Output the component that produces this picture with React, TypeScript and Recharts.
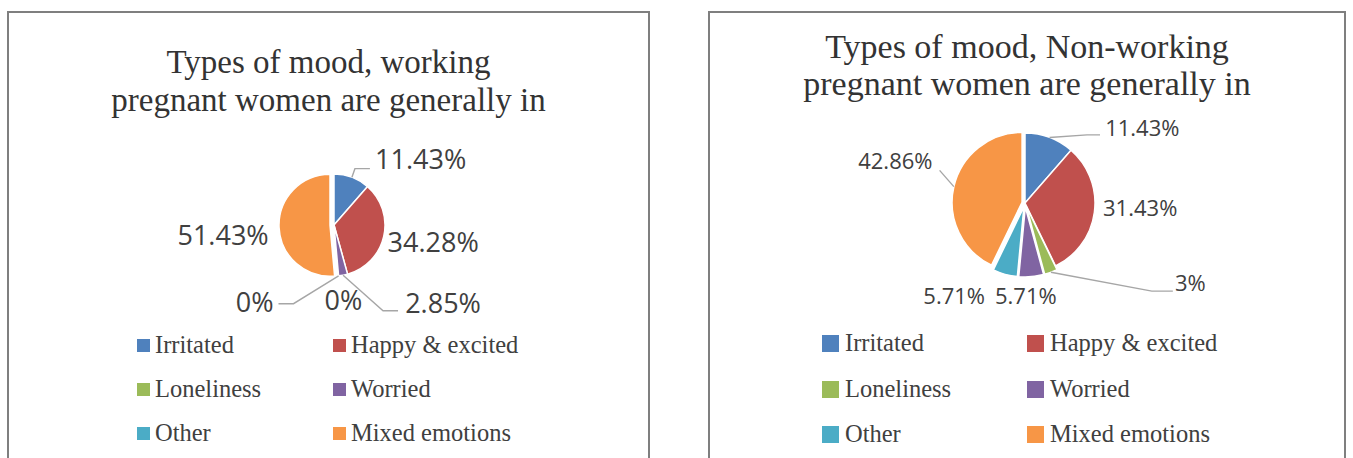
import React from 'react';
import { Cell, Legend, Pie, PieChart, Sector } from 'recharts';

const categories = ['Irritated', 'Happy & excited', 'Loneliness', 'Worried', 'Other', 'Mixed emotions'];
const colors = ['#4F81BD', '#C0504D', '#9BBB59', '#8064A2', '#4BACC6', '#F79646'];

const workingValues = [11.43, 34.28, 0, 2.85, 0, 51.43];
const nonWorkingValues = [11.43, 31.43, 3, 5.71, 5.71, 42.86];

const workingTitle = ['Types of mood, working', 'pregnant women are generally in'];
const nonWorkingTitle = ['Types of mood, Non-working', 'pregnant women are generally in'];

const RAD = Math.PI / 180;
const TEXT = '#404040';
const LEADER = '#A6A6A6';

type Leader = { gap: number; dy: number; tail: number } | null;

type Layout = {
  left: number;
  top: number;
  width: number;
  height: number;
  cx: number;
  cy: number;
  r: number;
  titleTop: number;
  titleSize: number;
  titleLine: number;
  labelSize: number;
  nudges: [number, number][];
  leaders: Leader[];
  explode: number[];
  legend: { colX: number[]; textGap: number; rowY: number[]; square: number };
};

const leftLayout: Layout = {
  left: 7,
  top: 11,
  width: 643,
  height: 460,
  cx: 322,
  cy: 209,
  r: 51,
  titleTop: 32,
  titleSize: 33,
  titleLine: 38,
  labelSize: 27,
  nudges: [
    [61, 3],
    [28, 1],
    [-10, 5],
    [96, 6],
    [-86, 5],
    [-38, 7],
  ],
  leaders: [
    { gap: 5, dy: 9, tail: 15 },
    null,
    null,
    { gap: 7, dy: 8, tail: 15 },
    { gap: 5, dy: 1, tail: 15 },
    null,
  ],
  explode: [0, 0, 0, 0, 0, 4],
  legend: { colX: [130, 326], textGap: 5, rowY: [334, 378, 422], square: 13 },
};

const rightLayout: Layout = {
  left: 708,
  top: 11,
  width: 638,
  height: 460,
  cx: 312,
  cy: 187,
  r: 70,
  titleTop: 17,
  titleSize: 34,
  titleLine: 37,
  labelSize: 22,
  nudges: [
    [85, 11],
    [24, -7],
    [133, -6],
    [-7, 1],
    [-46, 4],
    [-40, -21],
  ],
  leaders: [
    { gap: 5, dy: 7, tail: 13 },
    null,
    { gap: 2, dy: 8, tail: 21 },
    null,
    null,
    { gap: 7, dy: 9, tail: 0 },
  ],
  explode: [0, 0, 4, 4, 4, 3],
  legend: { colX: [114, 319], textGap: 6, rowY: [332, 378, 423], square: 17 },
};

const polar = (cx: number, cy: number, r: number, angle: number) => ({
  x: cx + r * Math.cos(-angle * RAD),
  y: cy + r * Math.sin(-angle * RAD),
});

// rough Open Sans advance widths, enough to place leader ends
const textWidth = (s: string, size: number) =>
  s.split('').reduce((w, c) => w + (c === '.' ? 0.27 : c === '%' ? 0.83 : 0.572), 0) * size;

const indexOf = (props: any) => {
  const name = props.name ?? props.payload?.name;
  const i = categories.indexOf(name);
  return i >= 0 ? i : props.index ?? 0;
};

function makeShape(layout: Layout) {
  return (props: any) => {
    const i = indexOf(props);
    const off = layout.explode[i] ?? 0;
    const p = polar(props.cx, props.cy, off, props.midAngle ?? 0);
    return <Sector {...props} cx={p.x} cy={p.y} />;
  };
}

function makeLabel(layout: Layout) {
  return (props: any) => {
    const { cx, cy, midAngle, outerRadius, value } = props;
    const i = indexOf(props);
    const [nx, ny] = layout.nudges[i];
    const base = polar(cx, cy, outerRadius + 22, midAngle);
    const x = base.x + nx;
    const y = base.y + ny;
    const text = `${value}%`;
    const w = textWidth(text, layout.labelSize);
    const leader = layout.leaders[i];
    let line = null;
    if (leader) {
      const c = polar(cx, cy, layout.explode[i] ?? 0, midAngle);
      const start = polar(c.x, c.y, outerRadius, midAngle);
      const right = x > start.x;
      const endX = right ? x - w / 2 - leader.gap : x + w / 2 + leader.gap;
      const ly = y + leader.dy;
      const elbowX = right ? endX - leader.tail : endX + leader.tail;
      line = (
        <polyline
          points={`${start.x},${start.y} ${elbowX},${ly} ${endX},${ly}`}
          fill="none"
          stroke={LEADER}
          strokeWidth={1.4}
        />
      );
    }
    return (
      <g>
        {line}
        <text
          x={x}
          y={y}
          dy="0.36em"
          textAnchor="middle"
          fill={TEXT}
          fontFamily="'Open Sans', sans-serif"
          fontSize={layout.labelSize}
        >
          {text}
        </text>
      </g>
    );
  };
}

function LegendGrid({ layout }: { layout: Layout }) {
  const { colX, textGap, rowY, square } = layout.legend;
  return (
    <div style={{ position: 'relative', width: layout.width, height: layout.height }}>
      {categories.map((name, i) => {
        const x = colX[i % 2];
        const y = rowY[Math.floor(i / 2)];
        return (
          <div
            key={name}
            style={{
              position: 'absolute',
              left: x,
              top: y - 15,
              height: 30,
              display: 'flex',
              alignItems: 'center',
              whiteSpace: 'nowrap',
            }}
          >
            <span style={{ width: square, height: square, background: colors[i], display: 'inline-block' }} />
            <span
              style={{
                marginLeft: textGap,
                fontFamily: "'Liberation Serif', serif",
                fontSize: 24.5,
                color: TEXT,
              }}
            >
              {name}
            </span>
          </div>
        );
      })}
    </div>
  );
}

function MoodPie({ title, values, layout }: { title: string[]; values: number[]; layout: Layout }) {
  const data = categories.map((name, i) => ({ name, value: values[i] }));
  return (
    <div
      style={{
        position: 'absolute',
        left: layout.left,
        top: layout.top,
        width: layout.width,
        height: layout.height,
      }}
    >
      <div
        style={{
          position: 'absolute',
          left: 0,
          top: layout.titleTop,
          width: layout.width,
          textAlign: 'center',
          fontFamily: "'Liberation Serif', serif",
          fontSize: layout.titleSize,
          lineHeight: `${layout.titleLine}px`,
          color: '#333333',
        }}
      >
        {title.map((t) => (
          <div key={t}>{t}</div>
        ))}
      </div>
      <PieChart width={layout.width} height={layout.height} style={{ position: 'absolute', left: 0, top: 0 }}>
        <Pie
          data={data}
          dataKey="value"
          nameKey="name"
          cx={layout.cx}
          cy={layout.cy}
          outerRadius={layout.r}
          startAngle={90}
          endAngle={-270}
          stroke="#FFFFFF"
          strokeWidth={1.5}
          labelLine={false}
          label={makeLabel(layout)}
          shape={makeShape(layout)}
          isAnimationActive={false}
        >
          {data.map((d, i) => (
            <Cell key={d.name} fill={colors[i]} />
          ))}
        </Pie>
        <Legend
          content={() => <LegendGrid layout={layout} />}
          wrapperStyle={{ position: 'absolute', left: 0, top: 0, width: layout.width, height: layout.height }}
        />
      </PieChart>
      <div
        style={{
          position: 'absolute',
          left: 0,
          top: 0,
          width: layout.width,
          height: layout.height,
          boxSizing: 'border-box',
          border: '2px solid #7F7F7F',
          pointerEvents: 'none',
        }}
      />
    </div>
  );
}

export default function App() {
  return (
    <div style={{ position: 'relative', width: 1353, height: 458, overflow: 'hidden', background: '#fff' }}>
      <style>{'body{margin:0;}'}</style>
      <MoodPie title={workingTitle} values={workingValues} layout={leftLayout} />
      <MoodPie title={nonWorkingTitle} values={nonWorkingValues} layout={rightLayout} />
    </div>
  );
}
